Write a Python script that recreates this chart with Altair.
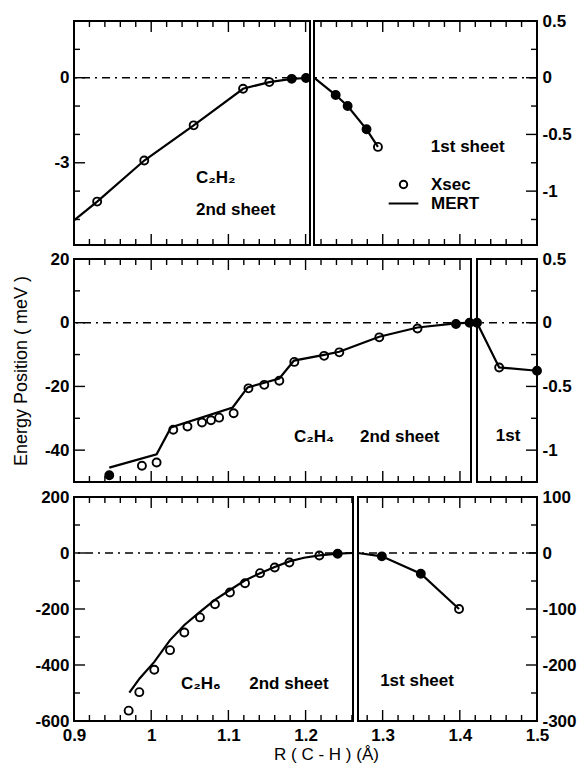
import altair as alt
import pandas as pd

FONT = "Liberation Sans"

# ---------------- C2H2 ----------------
c2h2_2nd_mert_x = [0.900, 0.930, 0.991, 1.055, 1.119, 1.153, 1.182, 1.2005, 1.2057]
c2h2_2nd_mert_y = [-5.03, -4.37, -2.92, -1.68, -0.39, -0.155, -0.04, -0.01, 0.0]
c2h2_2nd_xsec_x = [0.930, 0.991, 1.055, 1.119, 1.153, 1.182, 1.2005]
c2h2_2nd_xsec_y = [-4.37, -2.92, -1.68, -0.39, -0.155, -0.04, -0.01]
c2h2_2nd_solid_x = [1.182, 1.2005]
c2h2_2nd_solid_y = [-0.04, -0.01]

c2h2_1st_mert_x = [1.2109, 1.239, 1.2545, 1.279, 1.2938]
c2h2_1st_mert_y = [0.0, -0.153, -0.25, -0.455, -0.61]
c2h2_1st_xsec_x = [1.239, 1.2545, 1.279, 1.2938]
c2h2_1st_xsec_y = [-0.153, -0.25, -0.455, -0.61]
c2h2_1st_solid_x = [1.239, 1.2545, 1.279]
c2h2_1st_solid_y = [-0.153, -0.25, -0.455]

# ---------------- C2H4 ----------------
c2h4_2nd_mert_x = [0.9457, 1.007, 1.0256, 1.1055, 1.125, 1.166, 1.185, 1.224, 1.2436,
                   1.2955, 1.345, 1.3948, 1.4143]
c2h4_2nd_mert_y = [-45.5, -41.3, -32.9, -26.6, -20.3, -17.5, -11.9, -10.1, -9.1,
                   -4.4, -1.5, -0.2, 0.0]
c2h4_2nd_xsec_x = [0.9457, 0.988, 1.007, 1.0286, 1.047, 1.0658, 1.0775, 1.088, 1.1068,
                   1.126, 1.1465, 1.166, 1.1854, 1.224, 1.2437, 1.2955, 1.345, 1.3948, 1.4125]
c2h4_2nd_xsec_y = [-47.9, -44.9, -43.9, -33.6, -32.6, -31.3, -30.6, -29.8, -28.4,
                   -20.6, -19.5, -18.2, -12.3, -10.4, -9.3, -4.6, -1.8, -0.4, 0.0]
c2h4_2nd_solid_x = [0.9457, 1.3948, 1.4125]
c2h4_2nd_solid_y = [-47.9, -0.4, 0.0]

c2h4_1st_mert_x = [1.4223, 1.451, 1.5]
c2h4_1st_mert_y = [0.0, -0.351, -0.377]
c2h4_1st_xsec_x = [1.4223, 1.451, 1.5]
c2h4_1st_xsec_y = [0.0, -0.351, -0.377]
c2h4_1st_solid_x = [1.4223, 1.5]
c2h4_1st_solid_y = [0.0, -0.377]

# ---------------- C2H6 ----------------
c2h6_2nd_mert_x = [0.9717, 0.985, 1.004, 1.0244, 1.043, 1.0632, 1.082, 1.102, 1.1206,
                   1.141, 1.160, 1.179, 1.198, 1.2178, 1.2415, 1.2614]
c2h6_2nd_mert_y = [-499, -448, -389, -311, -257, -210, -168, -132, -99,
                   -72, -50, -30, -17, -8.6, -2.5, 0]
c2h6_2nd_xsec_x = [0.9708, 0.9846, 1.004, 1.0244, 1.0429, 1.0632, 1.0826, 1.102, 1.1215,
                   1.141, 1.160, 1.179, 1.2178, 1.2415]
c2h6_2nd_xsec_y = [-563, -497, -417, -347, -284, -230, -183, -141, -108,
                   -72, -52, -34, -9, -2.5]
c2h6_2nd_solid_x = [1.2415]
c2h6_2nd_solid_y = [-2.5]

c2h6_1st_mert_x = [1.2681, 1.299, 1.3495, 1.399]
c2h6_1st_mert_y = [0, -6, -37, -100]
c2h6_1st_xsec_x = [1.299, 1.3495, 1.399]
c2h6_1st_xsec_y = [-6, -37, -100]
c2h6_1st_solid_x = [1.299, 1.3495]
c2h6_1st_solid_y = [-6, -37]

# ---------------- annotations (data units of each panel) ----------------
c2h2_2nd_note_x = [1.058, 1.058]
c2h2_2nd_note_y = [-3.55, -4.65]
c2h2_2nd_note_t = ["C\u2082H\u2082", "2nd sheet"]
c2h2_1st_note_x = [1.3624]
c2h2_1st_note_y = [-0.61]
c2h2_1st_note_t = ["1st sheet"]
c2h4_2nd_note_x = [1.185, 1.2705]
c2h4_2nd_note_y = [-36.0, -35.8]
c2h4_2nd_note_t = ["C\u2082H\u2084", "2nd sheet"]
c2h4_1st_note_x = [1.4466]
c2h4_1st_note_y = [-0.888]
c2h4_1st_note_t = ["1st"]
c2h6_2nd_note_x = [1.0386, 1.127]
c2h6_2nd_note_y = [-467, -467]
c2h6_2nd_note_t = ["C\u2082H\u2086", "2nd sheet"]
c2h6_1st_note_x = [1.2968]
c2h6_1st_note_y = [-229]
c2h6_1st_note_t = ["1st sheet"]

# ---------------- axis tick values ----------------
x_major = [0.9, 1.0, 1.1, 1.2, 1.3, 1.4, 1.5]
x_minor = [round(0.9 + 0.02 * i, 2) for i in range(31) if i % 5 != 0]

legend_names = ["Xsec", "MERT"]
Y_TITLE = "Energy Position ( meV )"

MAJ, MIN = 11, 6


def within(vals, dom):
    lo, hi = min(dom), max(dom)
    return [v for v in vals if lo - 1e-9 <= v <= hi + 1e-9]


def panel(w, h, xdom, ydom, mx, my, sx, sy, fx, fy, nx, ny, nt,
          ylabels, yminor, side, xlabels=None, xtitle=None, show_ytitle=False, legend=None):
    xs = alt.Scale(domain=xdom, nice=False, zero=False)
    ys = alt.Scale(domain=ydom, nice=False, zero=False)
    if xlabels is None:
        xax = None
    else:
        kw = {}
        if xtitle:
            kw["titleX"] = 252
        xax = alt.Axis(values=xlabels, labelExpr="datum.value + ''", ticks=False, tickSize=0,
                       domain=False, grid=False, labelPadding=6, labelFlush=False,
                       labelOverlap=False, labelFont=FONT, labelFontSize=17,
                       labelFontWeight="bold", labelColor="black",
                       title=xtitle, titleFont=FONT, titleFontSize=17,
                       titleFontWeight="normal", titleColor="black", titlePadding=3, **kw)
    if side == "left":
        yax = alt.Axis(orient="left", values=ylabels, labelExpr="datum.value + ''",
                       ticks=False, tickSize=0, domain=False, grid=False, labelPadding=5,
                       labelFlush=False, labelOverlap=False, labelFont=FONT, labelFontSize=17,
                       labelFontWeight="bold", labelColor="black",
                       minExtent=39, maxExtent=39,
                       title=Y_TITLE, titleFont=FONT, titleFontSize=18,
                       titleFontWeight="normal",
                       titleColor="#000000" if show_ytitle else "transparent",
                       titlePadding=5)
    else:
        yax = alt.Axis(orient="right", values=ylabels, labelExpr="datum.value + ''",
                       ticks=False, tickSize=0, domain=False, grid=False, labelPadding=5,
                       labelFlush=False, labelOverlap=False, labelFont=FONT, labelFontSize=17,
                       labelFontWeight="bold", labelColor="black", title=None)

    def X(f):
        return alt.X(f, type="quantitative", scale=xs, axis=xax)

    def Y(f):
        return alt.Y(f, type="quantitative", scale=ys, axis=yax)

    layers = []
    # zero reference (dash-dot)
    layers.append(alt.Chart(pd.DataFrame({"y": [0.0]})).mark_rule(
        color="black", strokeWidth=1.6, strokeDash=[8, 5, 2, 5]).encode(y=Y("y")))
    # x ticks (inward, top and bottom)
    for vals, L in ((within(x_major, xdom), MAJ), (within(x_minor, xdom), MIN)):
        d = pd.DataFrame({"x": vals})
        layers.append(alt.Chart(d).mark_rule(color="black", strokeWidth=1.4).encode(
            x=X("x"), y=alt.value(0), y2=alt.value(L)))
        layers.append(alt.Chart(d).mark_rule(color="black", strokeWidth=1.4).encode(
            x=X("x"), y=alt.value(h), y2=alt.value(h - L)))
    # y ticks (inward on the labelled side)
    for vals, L in ((within(ylabels, ydom), MAJ), (within(yminor, ydom), MIN)):
        d = pd.DataFrame({"y": vals})
        if side == "left":
            enc = dict(x=alt.value(0), x2=alt.value(L))
        else:
            enc = dict(x=alt.value(w), x2=alt.value(w - L))
        layers.append(alt.Chart(d).mark_rule(color="black", strokeWidth=1.4).encode(
            y=Y("y"), **enc))
    # MERT line
    layers.append(alt.Chart(pd.DataFrame({"x": mx, "y": my})).mark_line(
        color="black", strokeWidth=2.2, interpolate="linear").encode(x=X("x"), y=Y("y")))
    # Xsec open circles
    sd = pd.DataFrame({"x": sx, "y": sy, "s": ["Xsec"] * len(sx)})
    pt = alt.Chart(sd).mark_point(shape="circle", filled=False, size=64, strokeWidth=1.9,
                                  color="black", opacity=1)
    if legend is not None:
        pt = pt.encode(x=X("x"), y=Y("y"),
                       shape=alt.Shape("s:N", scale=alt.Scale(domain=legend_names,
                                                              range=["circle", "M-4,0L4,0"]),
                                       legend=legend))
    else:
        pt = pt.encode(x=X("x"), y=Y("y"))
    layers.append(pt)
    # overlapping (solid) points
    layers.append(alt.Chart(pd.DataFrame({"x": fx, "y": fy})).mark_point(
        shape="circle", filled=True, size=70, color="black", opacity=1).encode(
        x=X("x"), y=Y("y")))
    # annotations
    layers.append(alt.Chart(pd.DataFrame({"x": nx, "y": ny, "t": nt})).mark_text(
        align="left", baseline="middle", font=FONT, fontSize=17, fontWeight="bold",
        color="black").encode(x=X("x"), y=Y("y"), text="t:N"))
    return alt.layer(*layers).properties(width=w, height=h)


H = 224
H_MID = 223
legend = alt.Legend(orient="none", legendX=81, legendY=155, title=None, padding=0,
                    labelFont=FONT, labelFontSize=17, labelFontWeight="bold",
                    labelColor="black", labelOffset=19, rowPadding=1,
                    symbolSize=55, symbolStrokeWidth=2, symbolStrokeColor="black",
                    symbolFillColor="transparent")

p1 = panel(236, H, [0.9, 1.2057], [-5.9, 2], c2h2_2nd_mert_x, c2h2_2nd_mert_y,
           c2h2_2nd_xsec_x, c2h2_2nd_xsec_y, c2h2_2nd_solid_x, c2h2_2nd_solid_y,
           c2h2_2nd_note_x, c2h2_2nd_note_y, c2h2_2nd_note_t,
           [0, -3], [1, -1, -2, -4, -5], "left")
p2 = panel(223, H, [1.2109, 1.5], [-1.475, 0.5], c2h2_1st_mert_x, c2h2_1st_mert_y,
           c2h2_1st_xsec_x, c2h2_1st_xsec_y, c2h2_1st_solid_x, c2h2_1st_solid_y,
           c2h2_1st_note_x, c2h2_1st_note_y, c2h2_1st_note_t,
           [0.5, 0, -0.5, -1], [0.25, -0.25, -0.75, -1.25], "right", legend=legend)
p3 = panel(397, H_MID, [0.9, 1.4143], [-50, 20], c2h4_2nd_mert_x, c2h4_2nd_mert_y,
           c2h4_2nd_xsec_x, c2h4_2nd_xsec_y, c2h4_2nd_solid_x, c2h4_2nd_solid_y,
           c2h4_2nd_note_x, c2h4_2nd_note_y, c2h4_2nd_note_t,
           [20, 0, -20, -40], [10, -10, -30], "left", show_ytitle=True)
p4 = panel(60, H_MID, [1.4223, 1.5], [-1.25, 0.5], c2h4_1st_mert_x, c2h4_1st_mert_y,
           c2h4_1st_xsec_x, c2h4_1st_xsec_y, c2h4_1st_solid_x, c2h4_1st_solid_y,
           c2h4_1st_note_x, c2h4_1st_note_y, c2h4_1st_note_t,
           [0.5, 0, -0.5, -1], [0.25, -0.25, -0.75], "right")
p5 = panel(279, H, [0.9, 1.2614], [-600, 200], c2h6_2nd_mert_x, c2h6_2nd_mert_y,
           c2h6_2nd_xsec_x, c2h6_2nd_xsec_y, c2h6_2nd_solid_x, c2h6_2nd_solid_y,
           c2h6_2nd_note_x, c2h6_2nd_note_y, c2h6_2nd_note_t,
           [200, 0, -200, -400, -600], [100, -100, -300, -500], "left",
           xlabels=[0.9, 1.0, 1.1, 1.2], xtitle="R ( C - H ) (\u00c5)")
p6 = panel(179, H, [1.2681, 1.5], [-300, 100], c2h6_1st_mert_x, c2h6_1st_mert_y,
           c2h6_1st_xsec_x, c2h6_1st_xsec_y, c2h6_1st_solid_x, c2h6_1st_solid_y,
           c2h6_1st_note_x, c2h6_1st_note_y, c2h6_1st_note_t,
           [100, 0, -100, -200, -300], [50, -50, -150, -250], "right",
           xlabels=[1.3, 1.4, 1.5])


def row(a, b, gap):
    return alt.hconcat(a, b, spacing=gap, bounds="flush").resolve_scale(
        x="independent", y="independent").resolve_legend(shape="independent")


chart = alt.vconcat(row(p1, p2, 4), row(p3, p4, 6), row(p5, p6, 5), spacing=2).resolve_scale(
    x="independent", y="independent").resolve_legend(shape="independent").configure(
    font=FONT).configure_view(stroke="black", strokeWidth=2).properties(
    padding={"left": 11, "top": 11, "right": 0, "bottom": 0}, background="white")

chart.save("out.html", embed_options={"renderer": "svg", "actions": False})
